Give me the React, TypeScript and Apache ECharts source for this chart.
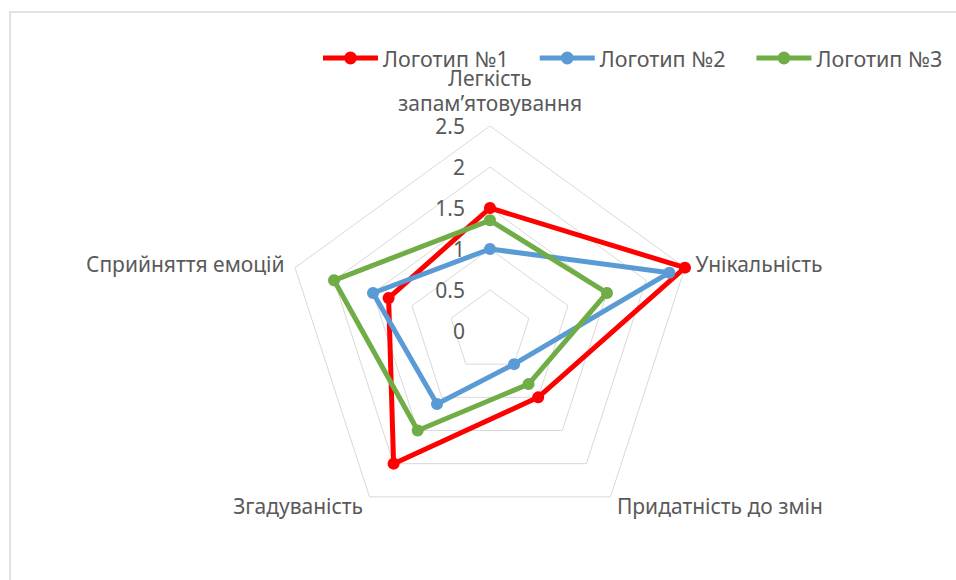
import { useEffect, useRef } from "react";
import * as echarts from "echarts";

// Criteria in the order they run clockwise from the top
const criteria = [
  "Легкість\nзапам’ятовування",
  "Унікальність",
  "Придатність до змін",
  "Згадуваність",
  "Сприйняття емоцій",
];
const scaleMax = 2.5;
const logoNames = ["Логотип №1", "Логотип №2", "Логотип №3"];
const logo1 = [1.5, 2.5, 1.0, 2.0, 1.3];
const logo2 = [1.0, 2.3, 0.5, 1.1, 1.5];
const logo3 = [1.35, 1.5, 0.8, 1.5, 2.0];
const logoColors = ["#FF0000", "#5B9BD5", "#70AD47"];

const FONT = "'Noto Sans', 'Liberation Sans', Arial, sans-serif";
const TEXT = "#595959";
const FONT_SIZE = 21;

// ECharts lays radar indicators out counter-clockwise; flip to clockwise.
const clockwise = <T,>(arr: T[]): T[] => [arr[0], ...arr.slice(1).reverse()];

// Legend glyph: a thick line with a dot in the middle
const LEGEND_ICON =
  "path://M0,4.5 H55 V9.5 H0 Z M21,7 A6.5,6.5 0 1,1 34,7 A6.5,6.5 0 1,1 21,7 Z";

export default function App() {
  const ref = useRef<HTMLDivElement>(null);

  useEffect(() => {
    if (!ref.current) return;
    const chart = echarts.init(ref.current, undefined, { renderer: "svg" });
    const seriesValues = [logo1, logo2, logo3];

    chart.setOption({
      animation: false,
      backgroundColor: "#FFFFFF",
      textStyle: { fontFamily: FONT },
      graphic: [
        {
          type: "rect",
          silent: true,
          shape: { x: 10, y: 12, width: 2000, height: 2000 },
          style: { fill: "none", stroke: "#D9D9D9", lineWidth: 1.5 },
        },
      ],
      legend: {
        left: 318,
        top: 42,
        width: 636,
        itemWidth: 55,
        itemHeight: 14,
        itemGap: 31,
        icon: LEGEND_ICON,
        textStyle: { color: TEXT, fontSize: 21.5, fontFamily: FONT },
        data: logoNames,
      },
      radar: {
        center: [490, 331],
        radius: 205,
        startAngle: 90,
        splitNumber: 5,
        shape: "polygon",
        nameGap: 11,
        axisName: { color: TEXT, fontSize: FONT_SIZE, fontFamily: FONT, lineHeight: 25 },
        axisLine: { show: false },
        axisTick: { show: false },
        splitArea: { show: false },
        splitLine: { lineStyle: { color: "#D9D9D9", width: 1 } },
        axisLabel: { show: false, color: TEXT, fontSize: FONT_SIZE, fontFamily: FONT, margin: 25 },
        indicator: clockwise(criteria).map((name, i) => ({
          name,
          min: 0,
          max: scaleMax,
          ...(i === 0 ? { axisLabel: { show: true } } : {}),
        })),
      },
      series: [
        {
          type: "radar",
          symbol: "circle",
          symbolSize: 12,
          data: logoNames.map((name, k) => ({
            name,
            value: clockwise(seriesValues[k]),
            lineStyle: { color: logoColors[k], width: 5 },
            itemStyle: { color: logoColors[k] },
          })),
        },
      ],
    });

    return () => chart.dispose();
  }, []);

  return (
    <div
      ref={ref}
      style={{ position: "absolute", left: 0, top: 0, width: 956, height: 580 }}
    />
  );
}
